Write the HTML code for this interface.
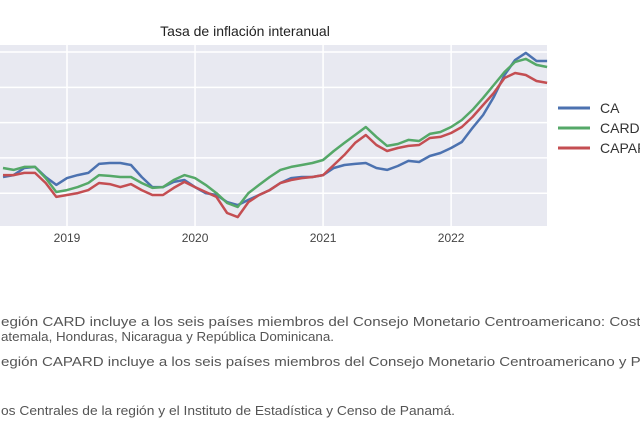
<!DOCTYPE html>
<html><head><meta charset="utf-8"><style>
html,body{margin:0;padding:0;background:#fff;width:640px;height:424px;overflow:hidden}
svg{display:block;font-family:"Liberation Sans",sans-serif}
</style></head><body>
<svg id="chart" width="640" height="424" viewBox="0 0 640 424">
<text x="245" y="36" text-anchor="middle" font-size="14" fill="#222">Tasa de inflación interanual</text>
<rect x="0" y="45" width="547" height="181" fill="#e8e9f1"/>
<g id="grid"></g>
<g id="xticks"></g>
<g id="series"></g>
<g>
<g><line x1="558" y1="108" x2="590" y2="108" stroke="#4c72b0" stroke-width="3"/><text x="600" y="113" font-size="14" fill="#333">CA</text></g>
<g><line x1="558" y1="128" x2="590" y2="128" stroke="#55a868" stroke-width="3"/><text x="600" y="133" font-size="14" fill="#333">CARD</text></g>
<g><line x1="558" y1="148" x2="590" y2="148" stroke="#c44e52" stroke-width="3"/><text x="600" y="153" font-size="14" fill="#333">CAPARD</text></g>
</g>
<g font-size="13" fill="#555">
<text x="1" y="326" textLength="648" lengthAdjust="spacingAndGlyphs">egión CARD incluye a los seis países miembros del Consejo Monetario Centroamericano: Costa</text>
<text x="1" y="341" textLength="333" lengthAdjust="spacingAndGlyphs">atemala, Honduras, Nicaragua y República Dominicana.</text>
<text x="1" y="366" textLength="648" lengthAdjust="spacingAndGlyphs">egión CAPARD incluye a los seis países miembros del Consejo Monetario Centroamericano y Pa</text>
<text x="1" y="415" textLength="454" lengthAdjust="spacingAndGlyphs">os Centrales de la región y el Instituto de Estadística y Censo de Panamá.</text>
</g>
</svg>
<script>
const startMonth = -6; // months relative to Jan 2019
const yearLabels = ["2019","2020","2021","2022"];
const yearOffsets = [0,12,24,36];
const gridValues = [1.8,3.8,5.8,7.8,9.8];
const seriesNames = ["CA","CARD","CAPARD"];
const caValues = [2.72,2.83,3.23,3.29,2.72,2.27,2.66,2.83,2.95,3.46,3.51,3.51,3.40,2.72,2.15,2.15,2.44,2.55,2.15,1.81,1.70,1.30,1.13,1.42,1.70,1.98,2.38,2.66,2.72,2.72,2.83,3.23,3.40,3.46,3.51,3.23,3.12,3.34,3.63,3.57,3.91,4.08,4.36,4.70,5.50,6.23,7.25,8.50,9.35,9.75,9.29,9.29];
const cardValues = [3.23,3.12,3.29,3.29,2.66,1.87,1.98,2.15,2.38,2.83,2.78,2.72,2.72,2.38,2.10,2.15,2.55,2.83,2.66,2.27,1.81,1.25,1.02,1.81,2.27,2.72,3.12,3.29,3.40,3.51,3.68,4.19,4.65,5.10,5.55,4.99,4.48,4.59,4.82,4.76,5.16,5.27,5.55,5.95,6.52,7.20,7.93,8.67,9.24,9.41,9.07,8.95];
const capardValues = [2.83,2.83,2.95,2.95,2.38,1.59,1.70,1.81,1.98,2.38,2.32,2.15,2.32,1.98,1.70,1.70,2.10,2.44,2.15,1.87,1.59,0.68,0.45,1.30,1.70,1.98,2.38,2.55,2.66,2.72,2.83,3.40,3.97,4.65,5.10,4.53,4.19,4.36,4.48,4.53,4.93,4.99,5.21,5.55,6.12,6.80,7.48,8.33,8.61,8.50,8.16,8.05];

const NS="http://www.w3.org/2000/svg";
const xScale = m => 67 + m*10.67;
const yScale = v => 225 - v*17.65;
const grid=document.getElementById('grid');
gridValues.forEach(v=>{
  const l=document.createElementNS(NS,'line');
  
  
  l.setAttribute('x1',0);l.setAttribute('x2',547);
  l.setAttribute('y1',yScale(v));l.setAttribute('y2',yScale(v));
  l.setAttribute('stroke','#fff');l.setAttribute('stroke-width','1.5');
  grid.appendChild(l);
});
const xt=document.getElementById('xticks');
yearLabels.forEach((lab,i)=>{
  const x=xScale(yearOffsets[i]);
  const l=document.createElementNS(NS,'line');
  
  
  l.setAttribute('x1',x);l.setAttribute('x2',x);l.setAttribute('y1',45);l.setAttribute('y2',226);
  l.setAttribute('stroke','#fff');l.setAttribute('stroke-width','1.5');
  grid.appendChild(l);
  const t=document.createElementNS(NS,'text');
  
  
  t.setAttribute('x',x);t.setAttribute('y',242);
  t.setAttribute('text-anchor','middle');t.setAttribute('font-size','12');t.setAttribute('fill','#444');
  t.textContent=lab;xt.appendChild(t);
});
const ser=document.getElementById('series');
[[caValues,'#4c72b0','line-ca'],[cardValues,'#55a868','line-card'],[capardValues,'#c44e52','line-capard']].forEach(([vals,col,name])=>{
  const p=document.createElementNS(NS,'polyline');
  
  
  p.setAttribute('points',vals.map((v,i)=>xScale(startMonth+i).toFixed(1)+','+yScale(v).toFixed(1)).join(' '));
  p.setAttribute('fill','none');p.setAttribute('stroke',col);p.setAttribute('stroke-width','2.5');
  p.setAttribute('stroke-linejoin','round');
  ser.appendChild(p);
});
</script>
</body></html>
